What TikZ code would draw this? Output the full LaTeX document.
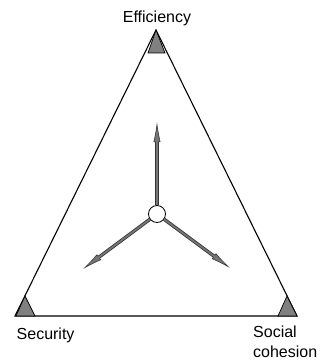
\documentclass[tikz,border=0pt]{standalone}
\usepackage{fontspec}
\setmainfont{Liberation Sans}
\usetikzlibrary{arrows.meta,positioning}
\definecolor{cornerGray}{RGB}{128,128,128}
\definecolor{shaftGray}{RGB}{118,118,118}

\begin{document}
\begin{tikzpicture}[x=1pt,y=-1pt,
    corner/.style={draw=black, fill=cornerGray, line width=0.7pt},
    tag/.style={inner sep=0pt, font=\fontsize{16}{20}\selectfont},
    hub/.style={circle, draw=black, fill=white, line width=0.8pt,
      minimum size=17pt, inner sep=0pt},
    pull/.style={line width=3.4pt, draw=black!80,
      -{Latex[length=20pt,width=7pt,fill=shaftGray,line width=0.6pt]},
      postaction={draw=shaftGray, line width=1.8pt, arrows=-, shorten >=10pt}}
  ]
  \useasboundingbox (0,0) rectangle (321,361);
  % outer triangle
  \coordinate (top) at (156,30);
  \coordinate (left) at (15,316);
  \coordinate (right) at (297,316);
  \draw[line width=1.1pt] (top) -- (left) -- (right) -- cycle;
  % corner marks
  \draw[corner] (156,30) -- (148,53) -- (165,53) -- cycle;
  \draw[corner] (25,296) -- (16,316) -- (35,316) -- cycle;
  \draw[corner] (287,296) -- (278,316) -- (297,316) -- cycle;
  % labels
  \node[tag, anchor=base] (effLabel) at (157,22.5) {Efficiency};
  \node[tag, anchor=base west] (secLabel) at (16.5,339) {Security};
  \node[tag, anchor=north west, align=left] (socLabel) at (253,326) {Social\\cohesion};
  % hub and pulls
  \node[hub] (hub) at (157,214) {};
  \coordinate (effTip) at (157,122);
  \coordinate (secTip) at (83,269);
  \coordinate (socTip) at (230,268);
  \draw[pull] (hub) -- (effTip);
  \draw[pull] (hub) -- (secTip);
  \draw[pull] (hub) -- (socTip);
\end{tikzpicture}
\end{document}
